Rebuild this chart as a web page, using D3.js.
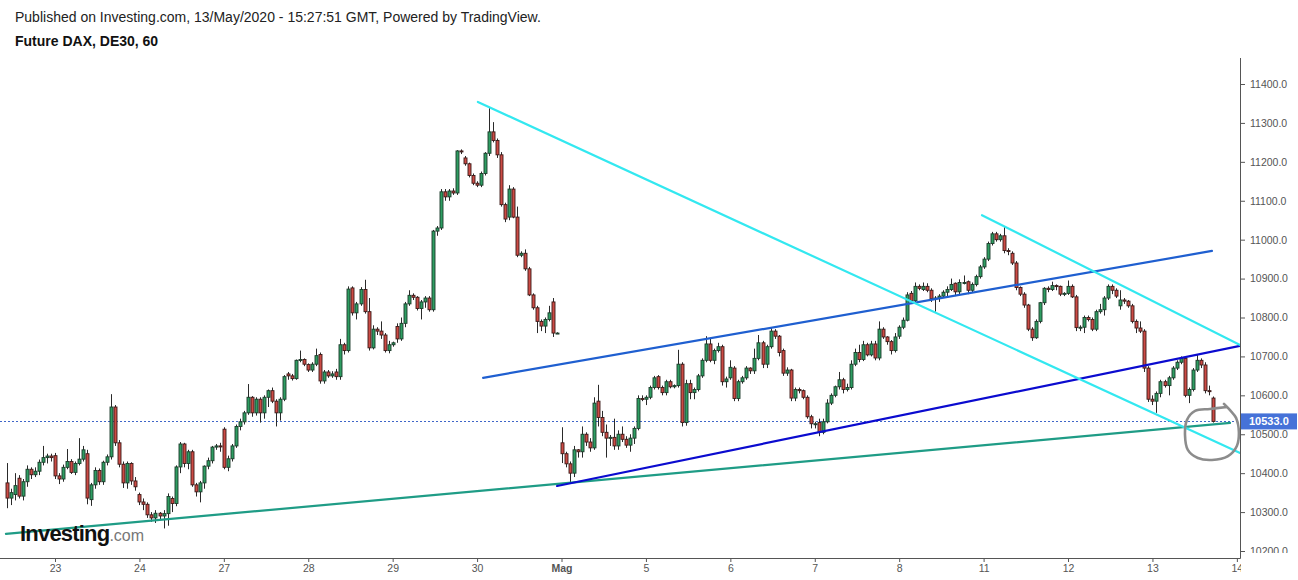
<!DOCTYPE html>
<html>
<head>
<meta charset="utf-8">
<script src="https://cdnjs.cloudflare.com/ajax/libs/d3/7.8.5/d3.min.js"></script>
<style>
    body{margin:0;background:#fff;}
    svg{display:block;font-family:"Liberation Sans",Arial,sans-serif;}
</style>
</head>
<body>
<svg id="chart" width="1298" height="580"></svg>
<script>
// hourly candles [open, high, low, close]
const day22 = [[10375,10426,10310,10336],[10336,10360,10318,10350],[10345,10400,10330,10368],[10387,10395,10335,10341],
    [10341,10385,10330,10378],[10378,10420,10365,10410],[10410,10415,10385,10396],[10396,10415,10390,10405],
    [10405,10435,10395,10428],[10428,10470,10420,10440],[10440,10450,10425,10444],[10444,10450,10430,10440]];
const day23 = [[10445,10452,10385,10393],[10393,10400,10372,10385],[10385,10422,10378,10415],[10415,10462,10410,10430],
    [10430,10436,10398,10402],[10402,10430,10395,10425],[10425,10490,10420,10436],[10436,10470,10430,10460],
    [10450,10460,10320,10336],[10332,10375,10316,10370],[10370,10415,10360,10407],[10407,10412,10370,10378],
    [10378,10432,10370,10428],[10428,10448,10420,10442],[10442,10603,10435,10570],[10570,10575,10470,10478],
    [10478,10485,10415,10423],[10423,10430,10362,10375],[10375,10430,10360,10425],[10425,10428,10370,10380],
    [10380,10390,10355,10365]];
const day24 = [[10345,10350,10318,10326],[10326,10335,10305,10320],[10320,10325,10285,10293],[10293,10300,10275,10285],
    [10285,10305,10272,10297],[10297,10300,10280,10290],[10290,10305,10258,10296],[10296,10348,10265,10340],
    [10335,10340,10300,10322],[10322,10420,10315,10416],[10416,10480,10400,10475],[10475,10478,10415,10425],
    [10425,10460,10410,10455],[10455,10460,10365,10370],[10370,10375,10340,10352],[10352,10380,10325,10375],
    [10375,10420,10360,10418],[10418,10440,10410,10432],[10432,10470,10425,10467],[10467,10475,10460,10470],
    [10470,10478,10455,10468]];
const day27 = [[10513,10518,10410,10415],[10415,10445,10405,10437],[10437,10475,10430,10470],[10470,10525,10465,10520],
    [10520,10540,10510,10532],[10532,10560,10525,10555],[10555,10629,10550,10595],[10595,10598,10545,10555],
    [10555,10595,10548,10590],[10590,10595,10530,10555],[10555,10600,10540,10595],[10595,10615,10570,10612],
    [10612,10620,10580,10585],[10585,10590,10520,10555],[10555,10595,10535,10590],[10590,10652,10585,10648],
    [10655,10660,10640,10650],[10650,10655,10638,10643],[10643,10692,10640,10690],[10690,10715,10685,10692],
    [10692,10695,10675,10680]];
const day28 = [[10679,10682,10660,10665],[10665,10685,10660,10680],[10680,10720,10675,10702],[10705,10710,10630,10637],
    [10637,10665,10630,10660],[10660,10665,10645,10650],[10650,10662,10645,10655],[10660,10668,10640,10648],
    [10648,10745,10640,10730],[10730,10735,10705,10715],[10715,10880,10710,10873],[10876,10880,10805,10812],
    [10812,10840,10795,10835],[10835,10878,10830,10872],[10872,10897,10810,10815],[10815,10850,10715,10722],
    [10722,10780,10718,10770],[10770,10775,10755,10765],[10765,10790,10745,10755],[10755,10760,10710,10715],
    [10715,10740,10708,10730]];
const day29 = [[10730,10738,10725,10735],[10777,10785,10735,10745],[10745,10800,10740,10785],[10785,10840,10775,10835],
    [10835,10870,10830,10857],[10857,10862,10845,10852],[10852,10855,10818,10823],[10823,10845,10795,10840],
    [10840,10855,10825,10850],[10850,10855,10815,10820],[10820,11025,10815,11022],[11022,11035,11010,11030],
    [11030,11130,11025,11123],[11123,11130,11100,11110],[11110,11130,11100,11125],[11125,11132,11115,11120],
    [11120,11230,11115,11228],[11228,11232,11220,11226],[11210,11215,11190,11195],[11195,11198,11160,11165],
    [11165,11170,11140,11145]];
const day30 = [[11145,11150,11135,11140],[11140,11175,11135,11170],[11170,11225,11165,11222],[11222,11338,11215,11277],
    [11277,11302,11250,11255],[11255,11260,11210,11218],[11218,11225,11085,11090],[11090,11095,11045,11053],
    [11058,11140,11050,11130],[11130,11135,11055,11058],[11058,11085,10955,10960],[10960,10970,10955,10965],
    [10965,10975,10920,10925],[10925,10930,10855,10858],[10858,10862,10820,10825],[10825,10830,10760,10790],
    [10790,10795,10765,10778],[10778,10800,10760,10795],[10795,10830,10790,10812],[10840,10850,10750,10760],
    [10760,10762,10758,10760]];
const may04 = [[10478,10518,10426,10450],[10450,10455,10415,10424],[10424,10430,10377,10400],[10400,10470,10390,10460],
    [10460,10462,10440,10455],[10455,10520,10440,10500],[10500,10505,10470,10480],[10480,10490,10455,10465],
    [10465,10595,10460,10580],[10585,10627,10520,10543],[10543,10560,10495,10505],[10505,10525,10440,10490],
    [10490,10498,10470,10492],[10492,10540,10460,10470],[10470,10510,10460,10500],[10500,10520,10480,10487],
    [10487,10495,10465,10472],[10472,10500,10455,10490],[10490,10520,10475,10515],[10515,10600,10510,10592],
    [10592,10600,10585,10590]];
const may05 = [[10590,10600,10575,10595],[10595,10625,10590,10620],[10620,10650,10615,10645],[10648,10652,10615,10620],
    [10620,10625,10600,10607],[10607,10640,10600,10635],[10635,10640,10618,10622],[10622,10628,10618,10625],
    [10625,10717,10620,10680],[10680,10685,10520,10530],[10530,10640,10522,10630],[10630,10640,10590,10607],
    [10607,10620,10590,10615],[10615,10655,10610,10650],[10650,10695,10645,10690],[10690,10752,10685,10732],
    [10732,10745,10685,10690],[10690,10720,10680,10715],[10715,10735,10710,10725],[10725,10730,10625,10635],
    [10635,10648,10620,10642]];
const may06 = [[10645,10690,10640,10672],[10670,10675,10585,10592],[10592,10640,10585,10635],[10635,10650,10630,10645],
    [10645,10675,10640,10670],[10670,10672,10655,10663],[10663,10720,10655,10695],[10695,10755,10690,10735],
    [10735,10740,10670,10680],[10680,10730,10670,10725],[10725,10775,10720,10765],[10765,10770,10745,10752],
    [10752,10755,10700,10710],[10715,10720,10650,10657],[10657,10672,10650,10665],[10665,10668,10585,10593],
    [10593,10620,10585,10615],[10615,10620,10605,10612],[10612,10615,10590,10595],[10595,10600,10540,10545],
    [10545,10550,10515,10527]];
const may07 = [[10527,10532,10515,10527],[10530,10540,10495,10505],[10505,10540,10500,10532],[10532,10590,10528,10580],
    [10580,10605,10575,10600],[10600,10625,10595,10622],[10622,10660,10615,10640],[10640,10645,10605,10615],
    [10615,10630,10610,10620],[10620,10690,10615,10680],[10680,10720,10675,10710],[10710,10730,10685,10692],
    [10692,10740,10688,10730],[10730,10735,10700,10704],[10704,10740,10700,10732],[10732,10740,10690,10696],
    [10696,10790,10690,10770],[10770,10775,10745,10750],[10750,10752,10730,10738],[10738,10742,10705,10715],
    [10715,10760,10710,10750]];
const may08 = [[10752,10780,10745,10775],[10775,10800,10770,10793],[10793,10865,10790,10858],[10862,10868,10835,10843],
    [10843,10890,10838,10880],[10880,10885,10870,10875],[10872,10890,10868,10880],[10880,10888,10865,10870],
    [10870,10875,10840,10848],[10848,10855,10815,10850],[10850,10860,10840,10855],[10855,10870,10850,10865],
    [10865,10880,10855,10872],[10872,10900,10868,10885],[10888,10890,10855,10866],[10866,10898,10860,10890],
    [10890,10908,10885,10890],[10892,10895,10860,10870],[10870,10890,10865,10885],[10885,10910,10880,10905],
    [10905,10935,10900,10930]];
const may11 = [[10930,10955,10925,10950],[10950,10995,10945,10990],[10990,11020,10985,11015],[11015,11020,10995,11000],
    [11000,11015,10995,11010],[11010,11033,10965,10972],[10972,10978,10960,10970],[10965,10970,10935,10940],
    [10940,10945,10870,10877],[10877,10880,10855,10860],[10860,10865,10825,10832],[10832,10835,10765,10770],
    [10770,10775,10740,10748],[10748,10795,10745,10790],[10790,10840,10785,10838],[10838,10878,10832,10875],
    [10875,10880,10865,10872],[10872,10892,10868,10882],[10882,10885,10870,10880],[10880,10882,10855,10860],
    [10860,10865,10855,10862]];
const may12 = [[10862,10895,10858,10880],[10880,10885,10850,10853],[10853,10858,10765,10774],[10774,10780,10765,10775],
    [10775,10805,10760,10800],[10800,10805,10790,10795],[10795,10800,10765,10770],[10770,10820,10765,10815],
    [10815,10835,10810,10820],[10820,10855,10805,10850],[10850,10885,10845,10880],[10880,10885,10860,10870],
    [10870,10875,10850,10855],[10830,10870,10820,10845],[10845,10850,10835,10842],[10842,10845,10825,10830],
    [10830,10835,10785,10790],[10790,10795,10760,10773],[10773,10790,10760,10765],[10765,10770,10660,10670],
    [10670,10675,10583,10590]];
const may13 = [[10590,10600,10575,10585],[10585,10610,10555,10605],[10605,10640,10595,10635],[10635,10640,10620,10625],
    [10625,10650,10600,10645],[10645,10675,10640,10670],[10670,10690,10665,10685],[10685,10700,10680,10695],
    [10695,10700,10595,10600],[10600,10620,10580,10615],[10615,10670,10610,10665],[10665,10705,10660,10690],
    [10690,10695,10670,10678],[10678,10685,10605,10612],[10612,10625,10600,10610],[10593,10597,10530,10533]];

// sessions in order; first = first hourly bar of the session
const sessions = [
    {bars: day22, first: 9}, {bars: day23, first: 0}, {bars: day24, first: 0}, {bars: day27, first: 0},
    {bars: day28, first: 0}, {bars: day29, first: 0}, {bars: day30, first: 0}, {bars: may04, first: 0},
    {bars: may05, first: 0}, {bars: may06, first: 0}, {bars: may07, first: 0}, {bars: may08, first: 0},
    {bars: may11, first: 0}, {bars: may12, first: 0}, {bars: may13, first: 0}
];
const barsPerDay = 21;
const dayLabels = ['23','24','27','28','29','30','Mag','5','6','7','8','11','12','13','14'];
const priceTicks = [10200,10300,10400,10500,10600,10700,10800,10900,11000,11100,11200,11300,11400];
const lastPrice = 10533;

// drawn trend lines, [bar, price] end points
const cyanLong = [[105.2,11354],[294.8,10452]];
const cyanShort = [[230.6,11063],[294.8,10729]];
const blueUpper = [[106.5,10645],[287.8,10971]];
const blueLower = [[124.9,10367],[294.8,10727]];
const tealBase = [[-12.2,10244],[292.3,10529]];
// hand drawn circle round the last bar
const circleMark = [[291.5,10570],[287.3,10565],[283.6,10560],[281.6,10537],[281.1,10498],[281.8,10460],[284.3,10439],
    [287.8,10434],[291.8,10444],[294.0,10470],[294.5,10506],[293.8,10542],[292.3,10562],[290.8,10578]];

let bars = [];
sessions.forEach(function(s, i){
    s.bars.forEach(function(c, j){
        bars.push({k: (i - 1) * barsPerDay + s.first + j, o: c[0], h: c[1], l: c[2], c: c[3]});
    });
});

const W = 1298, plotRight = 1240, plotTop = 58, plotBottom = 558;
let svg = d3.select('#chart');

let xScale = d3.scaleLinear().domain([-13.68, 294.78]).range([0, plotRight]);
let yScale = d3.scaleLinear().domain([10200, 11400]).range([551, 84]);

//裁剪区域
let defs = svg.append('defs');
defs.append('clipPath').attr('id','plotClip')
    .append('rect').attr('x',0).attr('y',plotTop).attr('width',plotRight).attr('height',plotBottom-plotTop);
defs.append('clipPath').attr('id','xAxisClip')
    .append('rect').attr('x',0).attr('y',plotBottom).attr('width',plotRight+1).attr('height',30);
defs.append('clipPath').attr('id','yAxisClip')
    .append('rect').attr('x',plotRight).attr('y',plotTop).attr('width',W-plotRight).attr('height',553-plotTop);

let plot = svg.append('g').attr('clip-path','url(#plotClip)');

//最新价虚线
plot.append('line')
    .attr('x1',0).attr('x2',plotRight)
    .attr('y1',Math.round(yScale(lastPrice))+0.5).attr('y2',Math.round(yScale(lastPrice))+0.5)
    .attr('stroke','#3f66c8').attr('stroke-width',1).attr('stroke-dasharray','2,2');

//K线
let candles = plot.append('g').attr('class','d3-candles')
    .selectAll('g').data(bars).enter().append('g');
candles.append('line')
    .attr('x1',d => Math.round(xScale(d.k))+0.5)
    .attr('x2',d => Math.round(xScale(d.k))+0.5)
    .attr('y1',d => yScale(d.h))
    .attr('y2',d => yScale(d.l))
    .attr('stroke','#2a2a2a').attr('stroke-width',1);
candles.append('rect')
    .attr('x',d => Math.round(xScale(d.k))-1)
    .attr('width',3)
    .attr('y',d => yScale(Math.max(d.o,d.c)))
    .attr('height',d => Math.max(1, Math.abs(yScale(d.o)-yScale(d.c))))
    .attr('fill',d => d.c >= d.o ? '#2e9d62' : '#cc4b45')
    .attr('stroke',d => d.c >= d.o ? '#1c3b2a' : '#3a1a18')
    .attr('stroke-width',0.9);

//趋势线
let line = d3.line().x(d => xScale(d[0])).y(d => yScale(d[1]));
const trendStyles = [
    {pts: tealBase, color: '#1f9c86'},
    {pts: blueUpper, color: '#1f5fd0'},
    {pts: blueLower, color: '#0b0bcf'},
    {pts: cyanLong, color: '#33e8f0'},
    {pts: cyanShort, color: '#33e8f0'}
];
plot.append('g').selectAll('path').data(trendStyles).enter().append('path')
    .attr('d',d => line(d.pts))
    .attr('fill','none')
    .attr('stroke',d => d.color)
    .attr('stroke-width',2.2)
    .attr('stroke-linecap','round');

plot.append('path')
    .attr('d',d3.line().x(d => xScale(d[0])).y(d => yScale(d[1])).curve(d3.curveCatmullRom)(circleMark))
    .attr('fill','none').attr('stroke','#8c8c8c').attr('stroke-width',2.6).attr('stroke-linecap','round');

//坐标轴
let xAxis = svg.append('g').attr('clip-path','url(#xAxisClip)')
    .append('g')
    .attr('transform',`translate(0,${plotBottom})`)
    .call(d3.axisBottom(xScale)
        .tickValues(dayLabels.map((d,i) => i*barsPerDay))
        .tickFormat((d,i) => dayLabels[i])
        .tickSize(4).tickSizeOuter(0));
xAxis.select('.domain').remove();
xAxis.selectAll('line').attr('stroke','#555');
xAxis.selectAll('text').attr('fill','#555').attr('font-size',10.5)
    .attr('font-family','"Liberation Sans",Arial,sans-serif')
    .attr('font-weight',(d,i) => dayLabels[i]==='Mag' ? 'bold' : 'normal');

let yAxis = svg.append('g').attr('clip-path','url(#yAxisClip)')
    .append('g')
    .attr('transform',`translate(${plotRight},0)`)
    .call(d3.axisRight(yScale).tickValues(priceTicks).tickFormat(d => d.toFixed(1)).tickSize(5).tickPadding(5));
yAxis.select('.domain').remove();
yAxis.selectAll('line').attr('stroke','#555');
yAxis.selectAll('text').attr('fill','#555').attr('font-size',10.5)
    .attr('font-family','"Liberation Sans",Arial,sans-serif');

svg.append('line').attr('x1',0).attr('x2',plotRight+0.5).attr('y1',plotBottom+0.5).attr('y2',plotBottom+0.5)
    .attr('stroke','#555').attr('stroke-width',1);
svg.append('line').attr('x1',plotRight+0.5).attr('x2',plotRight+0.5).attr('y1',plotTop).attr('y2',plotBottom+0.5)
    .attr('stroke','#555').attr('stroke-width',1);

//最新价标签
let ly = yScale(lastPrice);
svg.append('rect').attr('x',plotRight+1).attr('y',ly-8).attr('width',56).attr('height',16).attr('fill','#4672d8');
svg.append('text').attr('x',plotRight+9).attr('y',ly+4).attr('fill','#fff')
    .attr('font-size',11).attr('font-weight','bold').text(lastPrice.toFixed(1));

//标题
svg.append('text').attr('x',15).attr('y',22).attr('font-size',14).attr('fill','#222')
    .text('Published on Investing.com, 13/May/2020 - 15:27:51 GMT, Powered by TradingView.');
svg.append('text').attr('x',15).attr('y',46).attr('font-size',14).attr('font-weight','bold').attr('fill','#111')
    .text('Future DAX, DE30, 60');

//logo
let logo = svg.append('text').attr('x',20).attr('y',541).attr('font-size',22);
logo.append('tspan').attr('font-weight','900').attr('fill','#111').attr('letter-spacing',-0.8).text('Investing');
logo.append('tspan').attr('fill','#777').attr('font-size',16).text('.com');
</script>
</body>
</html>
